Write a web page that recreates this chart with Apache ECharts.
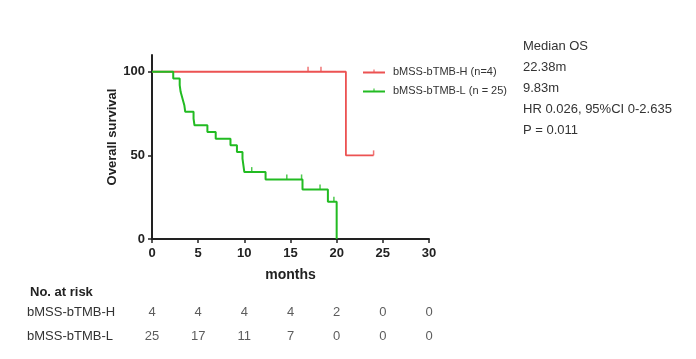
<!DOCTYPE html>
<html>
<head>
<meta charset="utf-8">
<script src="https://cdn.jsdelivr.net/npm/echarts@6/dist/echarts.min.js"></script>
<style>
html,body{margin:0;padding:0;background:#fff;}
#c{width:696px;height:359px;}
</style>
</head>
<body>
<div id="c"></div>
<script>
// ---- data ----
var seriesNames = ['bMSS-bTMB-H (n=4)', 'bMSS-bTMB-L (n = 25)'];
var highTimes = [0, 21, 24];
var highSurv = [100, 50, 50];
var highCensorTimes = [16.9, 18.3, 24];
var highCensorSurv = [100, 100, 50];

var lowTimes = [0, 2.3, 3.0, 3.1, 3.3, 3.5, 3.6, 4.5, 4.6, 6.0, 6.9, 8.5, 9.2, 9.8, 9.9, 10.0, 12.3, 16.3, 19.05, 20.0];
var lowSurv = [100, 96, 92, 88, 84, 80, 76, 72, 68, 64, 60, 56, 52, 48, 44, 40, 35.6, 29.6, 22.2, 0];
var lowCensorTimes = [10.8, 14.6, 16.2, 18.2, 19.7];
var lowCensorSurv = [40, 35.6, 35.6, 29.6, 22.2];

var xTicks = [0, 5, 10, 15, 20, 25, 30];
var yTicks = [0, 50, 100];

var riskRows = ['bMSS-bTMB-H', 'bMSS-bTMB-L'];
var riskTimes = [0, 5, 10, 15, 20, 25, 30];
var riskHigh = [4, 4, 4, 4, 2, 0, 0];
var riskLow = [25, 17, 11, 7, 0, 0, 0];

var statsLines = ['Median OS', '22.38m', '9.83m', 'HR 0.026, 95%CI 0-2.635', 'P = 0.011'];

var red = '#ec5252';
var green = '#22bb22';

function zip(a, b) { return a.map(function (v, i) { return [v, b[i]]; }); }

var chart = echarts.init(document.getElementById('c'), null, {renderer: 'canvas'});
var font = '"Liberation Sans", Arial, sans-serif';

var tickStyle = {fontFamily: font, fontWeight: 'bold', fontSize: 13, color: '#222'};

var legendIcon = 'path://M0,4 L22,4 L22,6 L0,6 Z M10.5,2 L11.5,2 L11.5,4 L10.5,4 Z';

var option = {
  backgroundColor: '#fff',
  animation: false,
  textStyle: {fontFamily: font},
  grid: [
    {left: 152, right: 267, top: 55, bottom: 120, containLabel: false},
    {left: 152, right: 267, top: 301, height: 47, containLabel: false}
  ],
  xAxis: [
    {
      gridIndex: 0, type: 'value', min: 0, max: 30, interval: 5,
      name: 'months', nameLocation: 'middle', nameGap: 29,
      nameTextStyle: {fontFamily: font, fontWeight: 'bold', fontSize: 14, color: '#222'},
      axisLine: {lineStyle: {color: '#222', width: 2}},
      axisTick: {show: true, length: 4, lineStyle: {color: '#222', width: 1.5}},
      axisLabel: Object.assign({margin: 8}, tickStyle),
      splitLine: {show: false}
    },
    {
      gridIndex: 1, type: 'value', min: 0, max: 30, show: false
    }
  ],
  yAxis: [
    {
      gridIndex: 0, type: 'value', min: 0, max: 110,
      name: 'Overall survival', nameLocation: 'middle', nameGap: 32, nameRotate: 90,
      nameTextStyle: {fontFamily: font, fontWeight: 'bold', fontSize: 13, color: '#222', padding: [0, 0, 0, 20]},
      axisLine: {show: true, lineStyle: {color: '#222', width: 2}},
      axisTick: {show: true, length: 4, customValues: yTicks, lineStyle: {color: '#222', width: 1.5}},
      axisLabel: Object.assign({margin: 7, customValues: yTicks}, tickStyle),
      splitLine: {show: false}
    },
    {
      gridIndex: 1, type: 'category', data: riskRows, inverse: true,
      axisLine: {show: false}, axisTick: {show: false}, splitLine: {show: false},
      axisLabel: {align: 'left', margin: 125, fontFamily: font, fontSize: 13, color: '#333'}
    }
  ],
  legend: {
    orient: 'vertical', left: 358, top: 61, itemWidth: 22, itemHeight: 8, itemGap: 8,
    icon: legendIcon,
    data: seriesNames,
    textStyle: {fontFamily: font, fontSize: 11, color: '#333', padding: [0, 0, 0, 3]}
  },
  title: [
    {text: 'No. at risk', left: 25, top: 281, textStyle: {fontFamily: font, fontSize: 13, fontWeight: 'bold', color: '#222'}}
  ].concat(statsLines.map(function (s, i) {
    return {text: s, left: 523, top: 40 + i * 21, padding: 0,
      textStyle: {fontFamily: font, fontSize: 13, fontWeight: 'normal', color: '#333'}};
  })),
  series: [
    {
      name: seriesNames[0], type: 'line', xAxisIndex: 0, yAxisIndex: 0,
      step: 'end', showSymbol: false, symbol: 'none',
      data: zip(highTimes, highSurv),
      lineStyle: {color: red, width: 1.8}, itemStyle: {color: red}, z: 3
    },
    {
      name: seriesNames[1], type: 'line', xAxisIndex: 0, yAxisIndex: 0,
      step: 'end', showSymbol: false, symbol: 'none',
      data: zip(lowTimes, lowSurv),
      lineStyle: {color: green, width: 2}, itemStyle: {color: green}, z: 4
    },
    {
      name: 'hc', type: 'scatter', xAxisIndex: 0, yAxisIndex: 0,
      symbol: 'rect', symbolSize: [1.5, 5], symbolOffset: [0, -2.5],
      data: zip(highCensorTimes, highCensorSurv), itemStyle: {color: red}, silent: true
    },
    {
      name: 'lc', type: 'scatter', xAxisIndex: 0, yAxisIndex: 0,
      symbol: 'rect', symbolSize: [1.5, 5], symbolOffset: [0, -2.5],
      data: zip(lowCensorTimes, lowCensorSurv), itemStyle: {color: green}, silent: true
    },
    {
      name: 'riskH', type: 'scatter', xAxisIndex: 1, yAxisIndex: 1,
      symbolSize: 0,
      data: riskTimes.map(function (t, i) { return [t, riskRows[0], riskHigh[i]]; }),
      label: {show: true, position: 'inside', formatter: function (p) { return p.value[2]; },
        fontFamily: font, fontSize: 13, color: '#333'},
      silent: true
    },
    {
      name: 'riskL', type: 'scatter', xAxisIndex: 1, yAxisIndex: 1,
      symbolSize: 0,
      data: riskTimes.map(function (t, i) { return [t, riskRows[1], riskLow[i]]; }),
      label: {show: true, position: 'inside', formatter: function (p) { return p.value[2]; },
        fontFamily: font, fontSize: 13, color: '#333'},
      silent: true
    }
  ]
};
chart.setOption(option);
</script>
</body>
</html>
